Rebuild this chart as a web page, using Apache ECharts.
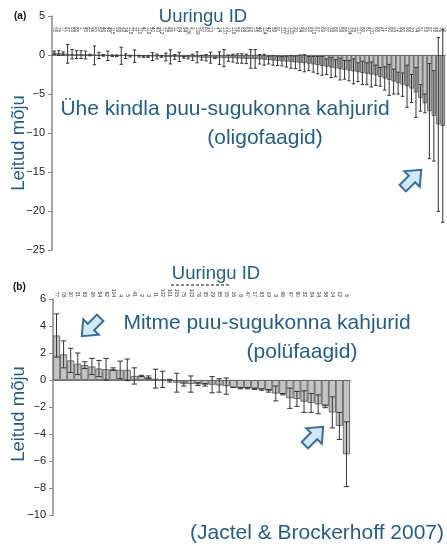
<!DOCTYPE html>
<html><head><meta charset="utf-8">
<script src="https://cdn.jsdelivr.net/npm/echarts@6/dist/echarts.min.js"></script>
<style>html,body{margin:0;padding:0;background:#fff}#c{width:447px;height:546px}</style>
</head><body><div id="c"></div>
<script>
// ---- Panel (a): single-family pests (oligophagous) ----
const idsA = ['75','76','77','87','88','85','1','45','25','50','52','46','48','115','99','36','34','118','21','110','41','119','40','43','112','28','26','11','64','94','106','9','109','57','60','13','7','14','107','10','116','56','68','63','92','55','49','114','42','89','91','111','103','100','20','84','30','62','113','67','69','37','39','66','59','95','104','38','117','86','81','101','65','61','71','90','93','72','80','96','33','74','51','58','97','98','18','19'];
const meansA = [0.3,0.25,0.2,0.15,0.1,0.05,0.05,0,0,-0.05,
  -0.05,-0.05,-0.1,-0.1,-0.1,-0.1,-0.15,-0.15,-0.15,-0.15,
  -0.2,-0.2,-0.2,-0.2,-0.2,-0.25,-0.25,-0.25,-0.25,-0.3,
  -0.3,-0.3,-0.3,-0.35,-0.35,-0.35,-0.35,-0.4,-0.4,-0.4,
  -0.4,-0.45,-0.45,-0.5,-0.5,-0.5,-0.55,-0.6,-0.65,-0.7,
  -0.75,-0.8,-0.85,-0.9,-0.95,-1.0,-1.05,-1.1,-1.2,-1.3,
  -1.4,-1.5,-1.6,-1.7,-1.8,-1.9,-2.0,-2.1,-2.2,-2.3,
  -2.4,-2.5,-2.6,-2.8,-3.0,-3.2,-3.4,-3.6,-3.8,-4.0,
  -4.3,-4.8,-5.5,-6.2,-7.2,-7.8,-8.9,-9.1];
const errsA = [0.2,0.3,0.2,1.2,0.6,0.5,0.5,0.5,0.1,1.2,
  0.4,0.1,0.6,0.1,0.1,1.1,0.3,0.1,0.8,0.1,
  0.1,0.1,0.5,0.3,0.1,0.5,0.9,0.3,0.6,0.1,
  0.2,0.4,0.7,0.3,0.4,0.7,0.1,0.8,1.1,0.4,
  0.5,0.6,0.6,0.6,1.2,1.2,0.6,0.7,0.5,0.6,
  0.6,0.6,0.7,0.8,0.8,1.0,1.1,0.9,1.0,1.1,
  1.2,1.0,1.3,1.1,1.4,1.2,1.3,1.6,1.2,1.5,
  1.4,1.6,1.3,1.2,1.5,2.0,1.6,1.4,1.5,2.7,
  1.8,3.2,1.7,1.2,6.1,5.8,11.15,12.35];

// ---- Panel (b): multi-family pests (polyphagous) ----
const idsB = ['77','78','30','31','83','26','54','62','104','4','5','41','2','3','11','102','101','105','75','103','76','35','29','65','15','16','8','47','17','93','19','9','96','97','90','32','34','24','58','14','12','6'];
const meansB = [3.3,1.9,1.45,1.2,1.1,1.0,0.85,0.8,0.8,0.75,0.75,0.3,0.3,0.2,0.1,0.05,-0.05,-0.2,-0.3,-0.3,-0.3,-0.35,-0.35,-0.4,-0.45,-0.55,-0.6,-0.6,-0.65,-0.7,-0.8,-1.0,-1.05,-1.35,-1.4,-1.6,-1.7,-1.8,-1.95,-2.4,-3.4,-5.5];
const errsB = [1.6,1.0,0.9,0.8,0.25,0.6,0.6,0.8,0.1,0.65,0.8,0.6,0.05,0.1,0.7,0.6,0.1,0.7,0.15,0.6,0.1,0.1,0.6,0.5,0.6,0,0.05,0.05,0.05,0.05,0.1,0.55,0.05,0.75,0.55,0.8,0.7,0.7,0.1,1.15,1.0,2.4];

const BLUE = '#1f5d8d';
const FONT = '"Liberation Sans", Arial, sans-serif';

function errRender(color){
  return function(params, api){
    const i = api.value(0);
    const lo = api.coord([i, api.value(1)]);
    const hi = api.coord([i, api.value(2)]);
    const half = api.size([1,0])[0]*0.38;
    const st = {stroke: color, lineWidth: 1, fill: null};
    return {type:'group', children:[
      {type:'line', shape:{x1:lo[0],y1:lo[1],x2:hi[0],y2:hi[1]}, style:st},
      {type:'line', shape:{x1:lo[0]-half,y1:lo[1],x2:lo[0]+half,y2:lo[1]}, style:st},
      {type:'line', shape:{x1:hi[0]-half,y1:hi[1],x2:hi[0]+half,y2:hi[1]}, style:st}
    ]};
  };
}
function errData(means, errs){
  return means.map((m,i)=>[i, m-errs[i], m+errs[i]]);
}
const minus = v => String(v).replace('-', '\u2212');

function yAxisCfg(grid, min, max, interval){
  return {
    type:'value', gridIndex:grid, min, max, interval,
    axisLine:{show:true, lineStyle:{color:'#888', width:1.5}},
    axisTick:{show:true, length:4, lineStyle:{color:'#888'}},
    splitLine:{show:false},
    axisLabel:{fontSize:11, color:'#222', margin:7, fontFamily:FONT, formatter:minus}
  };
}

const arrowPts = [[-13,-4.5],[0,-4.5],[0,-11],[13,0],[0,11],[0,4.5],[-13,4.5]];
function arrow(x, y, rot){
  return {type:'polygon', x, y, rotation:rot, shape:{points:arrowPts},
    style:{fill:'#cfe9fa', stroke:'#3b6e9e', lineWidth:2}, z:100};
}
function txt(x, y, text, size, rot){
  return {type:'text', x, y, rotation:rot||0,
    style:{text, fontSize:size, fill:BLUE, fontFamily:FONT, textAlign:'center', textVerticalAlign:'middle'}, z:100};
}

const chart = echarts.init(document.getElementById('c'));
chart.setOption({
  animation:false,
  grid:[
    {left:52, top:16, width:393, height:234},
    {left:53, top:299, width:297, height:216}
  ],
  xAxis:[
    {type:'category', gridIndex:0, data:idsA, position:'bottom',
     axisLine:{onZero:true, lineStyle:{color:'#777', width:1}}, axisTick:{show:false}, axisLabel:{show:false}},
    {type:'category', gridIndex:0, data:idsA, position:'top',
     axisLine:{show:false}, axisTick:{show:false},
     axisLabel:{inside:true, rotate:90, interval:0, fontSize:4.5, margin:11, color:'#333', fontFamily:FONT}},
    {type:'category', gridIndex:1, data:idsB, position:'bottom',
     axisLine:{onZero:true, lineStyle:{color:'#777', width:1}}, axisTick:{show:false}, axisLabel:{show:false}},
    {type:'category', gridIndex:1, data:idsB, position:'top',
     axisLine:{show:false}, axisTick:{show:false},
     axisLabel:{rotate:90, interval:0, fontSize:5, margin:2, color:'#333', fontFamily:FONT}}
  ],
  yAxis:[
    yAxisCfg(0, -25, 5, 5),
    yAxisCfg(1, -10, 6, 2)
  ],
  series:[
    {type:'bar', xAxisIndex:0, yAxisIndex:0, data:meansA, barCategoryGap:'0%',
     itemStyle:{color:'#c4c4c4', borderColor:'#555', borderWidth:0.8}},
    {type:'custom', xAxisIndex:0, yAxisIndex:0, data:errData(meansA, errsA),
     encode:{x:0, y:[1,2]}, renderItem:errRender('#333'), z:5},
    {type:'bar', xAxisIndex:2, yAxisIndex:1, data:meansB, barCategoryGap:'0%',
     itemStyle:{color:'#c4c4c4', borderColor:'#555', borderWidth:0.8}},
    {type:'custom', xAxisIndex:2, yAxisIndex:1, data:errData(meansB, errsB),
     encode:{x:0, y:[1,2]}, renderItem:errRender('#333'), z:5}
  ],
  graphic:[
    {type:'text', x:14, y:11, style:{text:'(a)', fontSize:10, fontWeight:'bold', fill:'#111', fontFamily:FONT}},
    {type:'text', x:13, y:282, style:{text:'(b)', fontSize:10, fontWeight:'bold', fill:'#111', fontFamily:FONT}},
    txt(203, 17, 'Uuringu ID', 18.5),
    txt(216, 274, 'Uuringu ID', 18.5),
    {type:'line', shape:{x1:171, y1:285, x2:230, y2:285}, style:{stroke:'#111', lineWidth:1, lineDash:[3,2]}},
    txt(19, 143, 'Leitud mõju', 18.5, Math.PI/2),
    txt(19, 414, 'Leitud mõju', 18.5, Math.PI/2),
    txt(225, 109, 'Ühe kindla puu-sugukonna kahjurid', 21),
    txt(265, 138, '(oligofaagid)', 21),
    txt(267, 323, 'Mitme puu-sugukonna kahjurid', 21),
    txt(302, 352, '(polüfaagid)', 21),
    txt(317, 533, '(Jactel & Brockerhoff 2007)', 21),
    arrow(412, 179, Math.PI/4),
    arrow(91, 327, Math.PI*5/4),
    arrow(314, 436, Math.PI/4)
  ]
});
</script>
</body></html>
